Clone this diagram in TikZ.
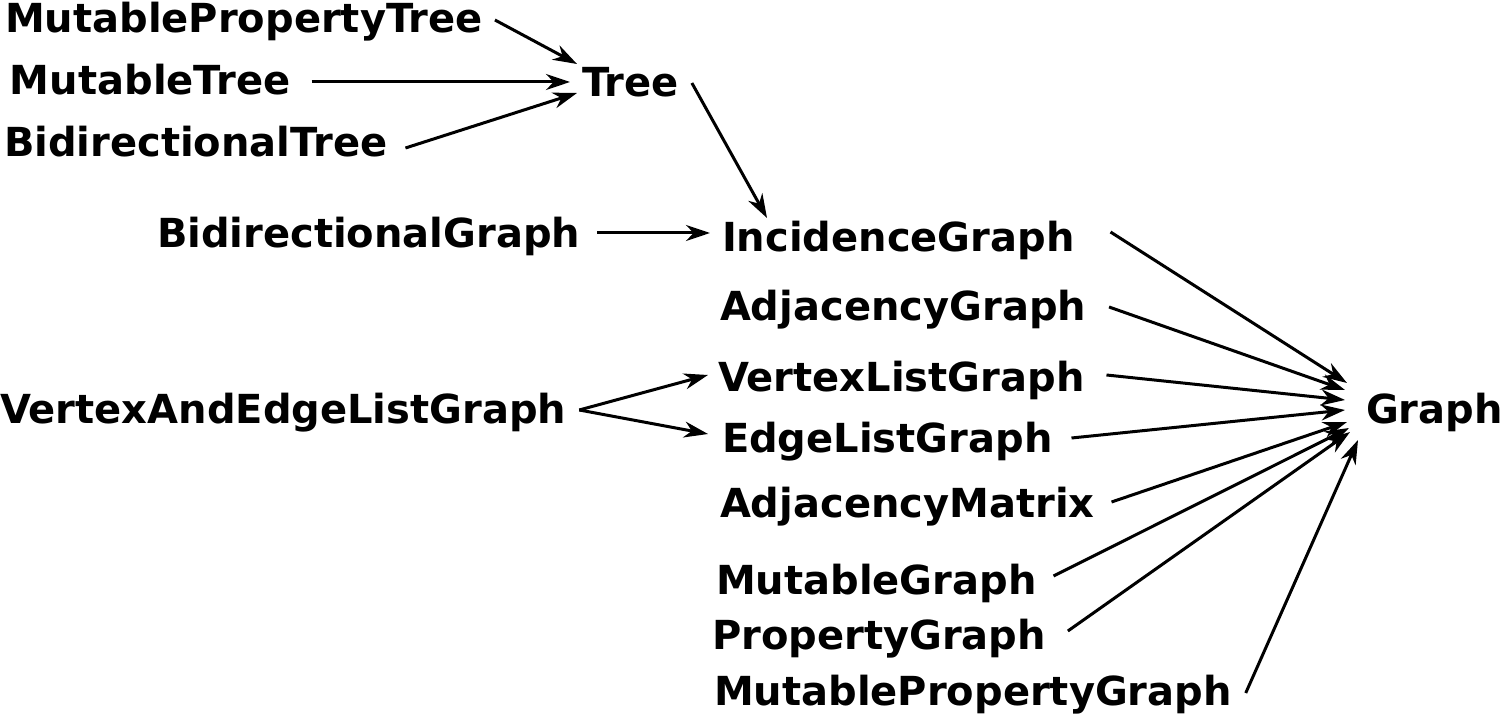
\documentclass[tikz,border=0pt]{standalone}
\usepackage{fontspec}
\setmainfont{DejaVu Sans}
\usetikzlibrary{arrows.meta,calc}
\begin{document}
\begin{tikzpicture}[x=0.5pt,y=-0.5pt,
  lbl/.style={inner sep=0pt,outer sep=0pt,anchor=west,text height=14.6pt,text depth=0pt,
    font=\fontsize{20}{24}\selectfont\bfseries},
  arr/.style={-{Stealth[length=12pt,width=8pt,inset=3.8pt]},line width=1.5pt}]
\useasboundingbox (0,0) rectangle (1500,715);
\node[lbl] (MPT) at (5,18) {MutablePropertyTree};
\node[lbl] (MT) at (10,80) {MutableTree};
\node[lbl] (BT) at (4,142) {BidirectionalTree};
\node[lbl] (T) at (582,82) {Tree};
\node[lbl] (BG) at (157,233) {BidirectionalGraph};
\node[lbl] (IG) at (722,237) {IncidenceGraph};
\node[lbl] (AG) at (720,306) {AdjacencyGraph};
\node[lbl] (VLG) at (718,377) {VertexListGraph};
\node[lbl] (VAELG) at (0,409) {VertexAndEdgeListGraph};
\node[lbl] (ELG) at (722,438) {EdgeListGraph};
\node[lbl] (AM) at (720,503) {AdjacencyMatrix};
\node[lbl] (MG) at (716,580) {MutableGraph};
\node[lbl] (PG) at (712,635) {PropertyGraph};
\node[lbl] (MPG) at (714,691) {MutablePropertyGraph};
\node[lbl] (G) at (1366,409) {Graph};
% tree part
\draw[arr] ($(MPT.east)+(12,2)$) -- ($(T.west)+(-5,-18)$);
\draw[arr] ($(MT.east)+(21,2)$) -- ($(T.west)+(-12,0)$);
\draw[arr] ($(BT.east)+(18,6)$) -- ($(T.west)+(-5,11)$);
\draw[arr] ($(T.east)+(13,1)$) -- ($(IG.west)+(45,-19)$);
\draw[arr] ($(BG.east)+(17,0)$) -- ($(IG.west)+(-12,-4)$);
% to graph
\draw[arr] ($(IG.east)+(36,-5)$) -- ($(G.west)+(-19,-26)$);
\draw[arr] ($(AG.east)+(23,1)$) -- ($(G.west)+(-21,-19)$);
\draw[arr] ($(VLG.east)+(22,-2)$) -- ($(G.west)+(-21,-9)$);
\draw[arr] ($(ELG.east)+(19,0)$) -- ($(G.west)+(-21,1)$);
\draw[arr] ($(AM.east)+(17,-1)$) -- ($(G.west)+(-19,13)$);
\draw[arr] ($(MG.east)+(17,-4)$) -- ($(G.west)+(-17,19)$);
\draw[arr] ($(PG.east)+(22,-4)$) -- ($(G.west)+(-16,23)$);
\draw[arr] ($(MPG.east)+(14,2)$) -- ($(G.west)+(-8,31)$);
% vertex and edge list
\draw[arr] ($(VAELG.east)+(13,1)$) -- ($(VLG.west)+(-10,-2)$);
\draw[arr] ($(VAELG.east)+(13,1)$) -- ($(ELG.west)+(-14,-4)$);
\end{tikzpicture}
\end{document}
